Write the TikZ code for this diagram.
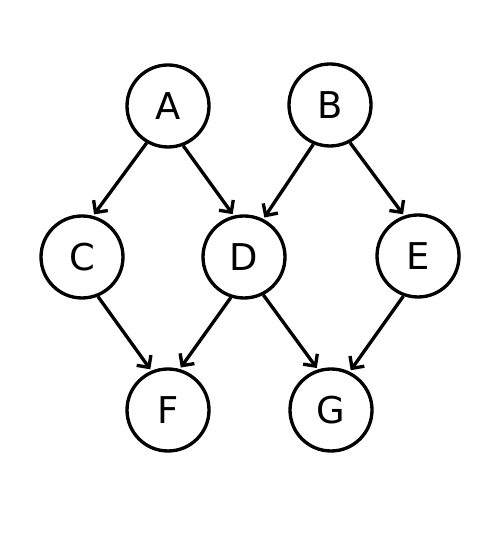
\documentclass[tikz,border=0pt]{standalone}
\usepackage{fontspec}
\setmainfont{DejaVu Sans}
\usetikzlibrary{arrows.meta}
\tikzset{>={Straight Barb[length=5pt,width=10pt]},every node/.style={font=\fontsize{21}{25}\selectfont},vtx/.style={draw,circle,line width=1.9pt,minimum size=1.64cm,inner sep=0pt},arc/.style={line width=1.9pt,->,shorten >=1pt}}
\begin{document}
\begin{tikzpicture}
\useasboundingbox (0,0) rectangle (10.02,10.78);
\node[vtx] (A) at (3.36,8.66){A};\node[vtx] (B) at (6.60,8.68){B};
\node[vtx] (C) at (1.64,5.64){C};\node[vtx] (D) at (4.88,5.64){D};\node[vtx] (E) at (8.36,5.66){E};
\node[vtx] (F) at (3.36,2.58){F};\node[vtx] (G) at (6.62,2.58){G};
\draw[arc] (A.240)--(C.75);\draw[arc] (A.291)--(D.104);\draw[arc] (B.247)--(D.63);\draw[arc] (B.298)--(E.109);
\draw[arc] (C.292)--(F.113);\draw[arc] (D.252)--(F.74);\draw[arc] (D.297)--(G.108);\draw[arc] (E.250)--(G.64);
\end{tikzpicture}
\end{document}
